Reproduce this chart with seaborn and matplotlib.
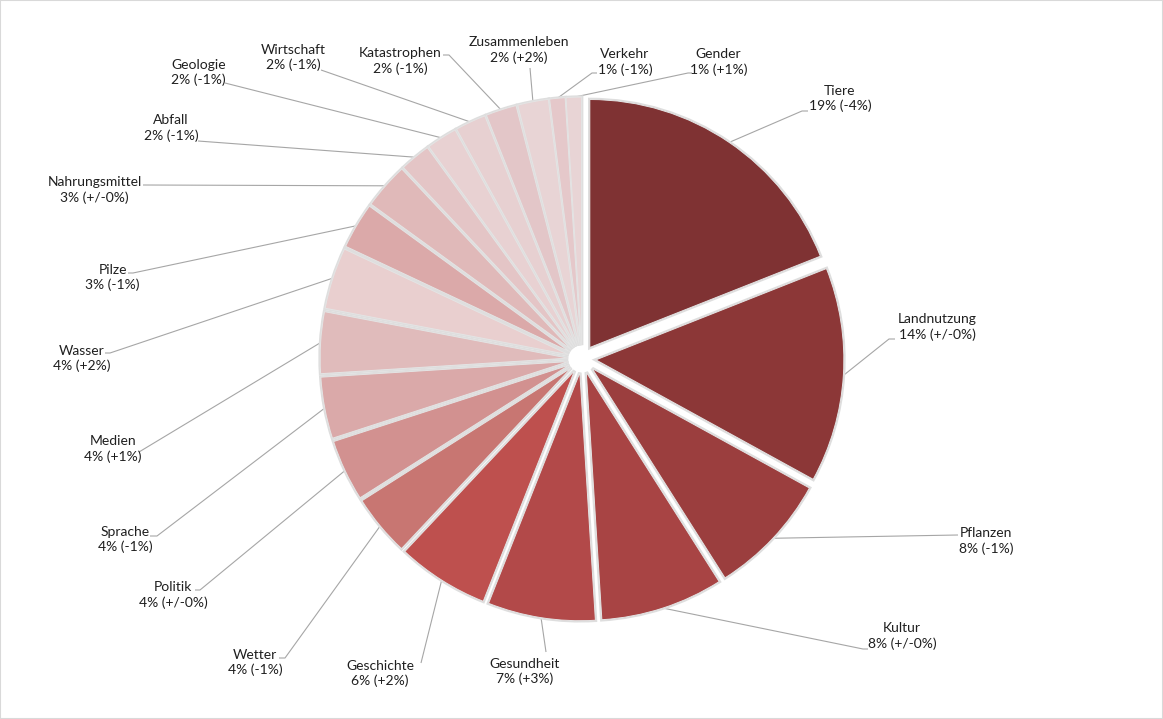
import matplotlib
matplotlib.use("Agg")
import matplotlib.pyplot as plt
import seaborn as sns
import numpy as np
from matplotlib.patches import Rectangle

# ---------------- data ----------------
categories = ["Tiere", "Landnutzung", "Pflanzen", "Kultur", "Gesundheit",
              "Geschichte", "Wetter", "Politik", "Sprache", "Medien",
              "Wasser", "Pilze", "Nahrungsmittel", "Abfall", "Geologie",
              "Wirtschaft", "Katastrophen", "Zusammenleben", "Verkehr", "Gender"]
shares = [19, 14, 8, 8, 7, 6, 4, 4, 4, 4, 4, 3, 3, 2, 2, 2, 2, 2, 1, 1]
changes = ["-4%", "+/-0%", "-1%", "+/-0%", "+3%", "+2%", "-1%", "+/-0%",
           "-1%", "+1%", "+2%", "-1%", "+/-0%", "-1%", "-1%", "-1%", "-1%",
           "+2%", "-1%", "+1%"]

# ---------------- style ----------------
slice_colors = ["#7F3233", "#8C3737", "#9B3E3E", "#A84444", "#B24949",
                "#BE504E", "#C87672", "#D29190", "#DAA9A9", "#E0BBBB",
                "#E9CFCF", "#DBA9A9", "#E0B9B9", "#E4C5C6", "#E8D1D2",
                "#E7D0D1", "#E3C6C8", "#E8D4D5", "#E5C8CA", "#E8D4D5"]

W, H = 1163, 719
CX, CY, RPX = 582, 359, 248          # pie centre and radius in pixels
EXPLODE = 0.056

# label block centres (pixels) and leader-line end points (pixels)
label_pos = [(840, 98.5), (937, 327), (986, 541), (902, 636), (525, 671.5),
             (380, 673.5), (255, 662.5), (173, 595), (125, 539.5), (113, 449),
             (82, 358.5), (112.5, 277.5), (94.5, 190), (171, 128), (198.5, 72.5),
             (293, 57.5), (400, 61), (519, 50), (625, 62), (718.5, 62)]
leader_pts = [[(802, 111), (808, 111)], [(889, 339), (895, 339)], [(958, 535)],
              [(863, 649), (868, 649)], [(546, 652)], [(421, 663)],
              [(285, 658), (279, 658)], [(200, 590), (195, 590)],
              [(157, 536), (150, 536)], [(139, 452)], [(110, 353), (105, 353)],
              [(133, 273), (128, 273)], [(143, 185)], [(198, 141)], [(225, 83)],
              [(321, 70)], [(449, 55), (443, 55)], [(530, 68)],
              [(592, 73), (597, 73)], [(688, 73), (692, 73)]]


def px(p):
    return ((p[0] - CX) / RPX, (CY - p[1]) / RPX)


sns.set_theme(style="white")
plt.rcParams["font.family"] = ["Lato", "DejaVu Sans"]

fig = plt.figure(figsize=(W / 100, H / 100), dpi=100)
ax = fig.add_axes([0, 0, 1, 1])

explode = [EXPLODE] * len(shares)

# soft grey halo behind the slices
ax.pie(shares, explode=explode, startangle=90, counterclock=False,
       colors=["#dadada"] * len(shares),
       wedgeprops=dict(edgecolor="#dedede", linewidth=2.6, zorder=1))
wedges, _ = ax.pie(shares, explode=explode, startangle=90, counterclock=False,
                   colors=slice_colors,
                   wedgeprops=dict(edgecolor="#e4e4e4", linewidth=0.7, zorder=2))

for w, name, s, ch, lp, pts in zip(wedges, categories, shares, changes,
                                   label_pos, leader_pts):
    mid = np.deg2rad((w.theta1 + w.theta2) / 2)
    sx = w.center[0] + w.r * np.cos(mid)
    sy = w.center[1] + w.r * np.sin(mid)
    path = [(sx, sy)] + [px(p) for p in pts]
    xs, ys = zip(*path)
    ax.plot(xs, ys, color="#a6a6a6", lw=0.8, zorder=0.5,
            solid_capstyle="butt")
    tx, ty = px(lp)
    ax.text(tx, ty, f"{name}\n{s}% ({ch})", ha="center", va="center",
            fontsize=10, color="#1f1f1f", linespacing=1.3, zorder=3)

ax.set_xlim(-CX / RPX, (W - CX) / RPX)
ax.set_ylim(-(H - CY) / RPX, CY / RPX)
ax.set_aspect("equal", adjustable="box")
ax.axis("off")

fig.patches.append(Rectangle((0, 0), 1, 1, transform=fig.transFigure,
                             fill=False, edgecolor="#d9d9d9", lw=1.5))

fig.savefig("out.png", dpi=100, facecolor="white")
